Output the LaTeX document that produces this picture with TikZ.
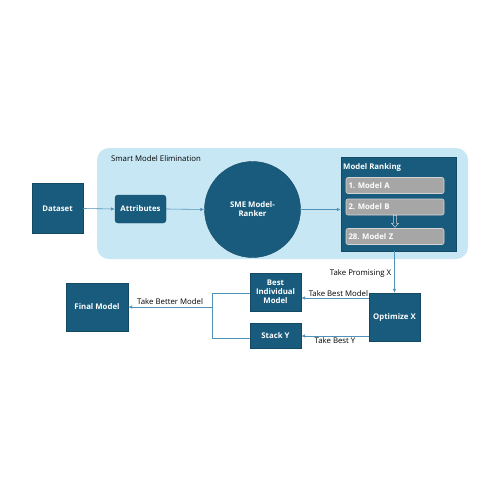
\documentclass[tikz,border=0pt]{standalone}
\usepackage{fontspec}
\setmainfont{Open Sans}
\usetikzlibrary{arrows.meta}
\frenchspacing
\definecolor{darkb}{HTML}{195B7C}
\definecolor{lightb}{HTML}{C8E7F5}
\definecolor{arrowc}{HTML}{4F93B8}
\definecolor{itemg}{HTML}{A6A6A6}
\definecolor{itemb}{HTML}{D4D4D4}
\tikzset{
  dbox/.style={draw=darkb!80!black, fill=darkb, text=white, font=\fontsize{7.8}{9}\selectfont\bfseries, align=center, inner sep=1pt},
  itembox/.style={draw=itemb, line width=0.6pt, fill=itemg, text=white, font=\fontsize{7.8}{9}\selectfont\bfseries\frenchspacing, rounded corners=2pt, minimum width=98pt, minimum height=16pt, text width=93pt, align=left, inner sep=1pt},
  conn/.style={draw=arrowc, line width=0.6pt, -{Latex[length=4pt,width=3.5pt]}},
  line/.style={draw=arrowc, line width=0.6pt},
  lbl/.style={font=\fontsize{7.8}{9}\selectfont, text=black, inner sep=1pt}
}
\begin{document}
\begin{tikzpicture}[x=1pt,y=-1pt]
\useasboundingbox (0,0) rectangle (500,500);
\fill[white] (0,0) rectangle (500,500);
% light region
\fill[lightb, rounded corners=12pt] (97,148) rectangle (468,259);
\node[lbl, anchor=west] (sme) at (110,159) {Smart Model Elimination};
% nodes
\node[dbox, minimum width=51pt, minimum height=50pt] (dataset) at (57.5,208.5) {Dataset};
\node[dbox, rounded corners=3pt, minimum width=51pt, minimum height=28pt] (attr) at (140.5,209) {Attributes};
\node[dbox, circle, minimum size=96pt] (ranker) at (252.5,209.5) {SME Model-\\Ranker};
\node[dbox, minimum width=115pt, minimum height=94pt] (panel) at (398.5,204) {};
\node[lbl, text=white, font=\fontsize{7.8}{9}\selectfont\bfseries, anchor=west] (mrlabel) at (342,167) {Model Ranking};
\node[itembox] (ma) at (395,185.5) {1.\ Model A};
\node[itembox] (mb) at (395,207) {2.\ Model B};
\node[itembox] (mz) at (395,236.5) {28.\ Model Z};
% small block arrow between B and Z
\filldraw[draw=itemb, fill=darkb, line width=0.5pt]
  ([xshift=-1.6pt]mb.south) -- ([xshift=-1.6pt,yshift=-8pt]mb.south) -- ([xshift=-3.5pt,yshift=-8pt]mb.south)
  -- ([yshift=1pt]mz.north) -- ([xshift=3.5pt,yshift=-8pt]mb.south) -- ([xshift=1.6pt,yshift=-8pt]mb.south)
  -- ([xshift=1.6pt]mb.south) -- cycle;

\node[dbox, minimum width=51pt, minimum height=48pt] (opt) at (394.5,317) {Optimize X};
\node[dbox, minimum width=51pt, minimum height=38pt] (best) at (275.5,292) {Best\\Individual\\Model};
\node[dbox, minimum width=51pt, minimum height=25pt] (stack) at (275.5,335.5) {Stack Y};
\node[dbox, minimum width=62pt, minimum height=48pt] (final) at (97,307) {Final Model};
\coordinate (jt) at (212,293);
\coordinate (jb) at (212,338);
\coordinate (jm) at (212,307);

% connectors
\draw[conn] (dataset.east) -- (attr.west);
\draw[conn] (attr.east) -- (ranker.west);
\draw[conn] (ranker.east) -- (panel.west |- ranker.east);
\draw[conn] (panel.south -| opt.north) -- node[lbl, anchor=east, xshift=-2pt, yshift=-1pt] {Take Promising X} (opt.north);
\draw[conn] (opt.west |- 0,298) -- node[lbl, above, pos=0.45] {Take Best Model} (best.east |- 0,298);
\draw[conn] (opt.west |- 0,336) -- node[lbl, below, pos=0.5] {Take Best Y} (stack.east |- 0,336);
\draw[line] (best.west |- jt) -- (jt) -- (jb) -- (stack.west |- jb);
\draw[conn] (jm) -- node[lbl, above, pos=0.5, yshift=1pt] {Take Better Model} (final.east |- jm);
\end{tikzpicture}
\end{document}
